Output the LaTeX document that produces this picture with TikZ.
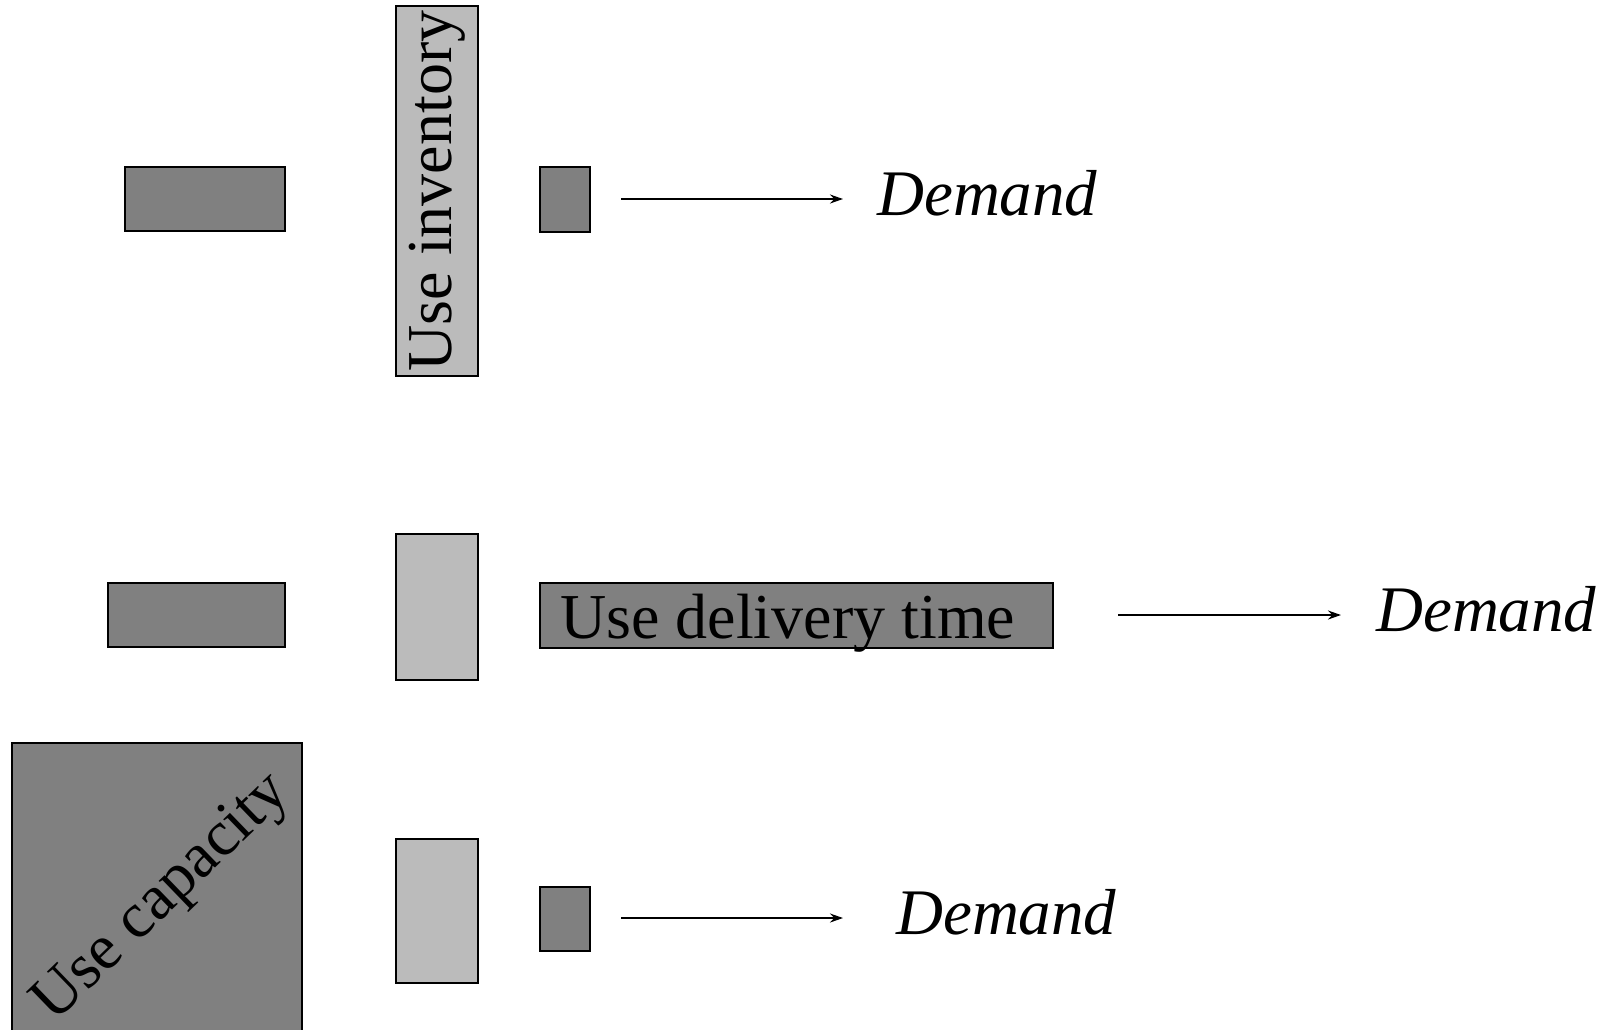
\documentclass[tikz,border=0pt]{standalone}
\usepackage{fontspec}
\setmainfont{Liberation Serif}
\usetikzlibrary{arrows.meta}
\definecolor{dk}{HTML}{808080}
\definecolor{lt}{HTML}{BBBBBB}
\begin{document}
\begin{tikzpicture}[x=1pt,y=-1pt,
  darkbox/.style={draw=black, fill=dk, line width=2.2pt, inner sep=0pt},
  lightbox/.style={draw=black, fill=lt, line width=2.2pt, inner sep=0pt},
  bigtext/.style={font=\fontsize{64}{70}\selectfont, inner sep=0pt},
  demtext/.style={font=\fontsize{65}{72}\selectfont\itshape, inner sep=0pt, anchor=base west},
  arr/.style={line width=1.8pt, -{Stealth[length=13pt,width=9pt]}}]
\clip (0,0) rectangle (1602,1029);
\useasboundingbox (0,0) rectangle (1602,1029);
\fill[white] (0,0) rectangle (1602,1029);
% top row
\node[darkbox, minimum width=160pt, minimum height=64pt] (l1) at (205,199) {};
\node[lightbox, bigtext, rotate=90, minimum width=370pt, minimum height=82pt] (inv) at (437,191) {Use inventory};
\node[darkbox, minimum width=50pt, minimum height=65pt] (s1) at (565,199.5) {};
\coordinate (a1s) at (621,199);
\node[demtext] (d1) at (877,215) {Demand};
\draw[arr] (a1s) -- ([xshift=-34pt]d1.west |- a1s);
% middle row
\node[darkbox, minimum width=177pt, minimum height=64pt] (l2) at (196.5,615) {};
\node[lightbox, minimum width=82pt, minimum height=146pt] (m2) at (437,607) {};
\node[darkbox, minimum width=513pt, minimum height=65pt] (del) at (796.5,615.5) {};
\node[bigtext, anchor=base west] (delt) at (560,638) {Use delivery time};
\coordinate (a2s) at (1118,615);
\node[demtext] (d2) at (1376,631) {Demand};
\draw[arr] (a2s) -- ([xshift=-35pt]d2.west |- a2s);
% bottom row
\node[darkbox, minimum width=290pt, minimum height=290pt] (cap) at (157,888) {};
\node[bigtext, rotate=44] (capt) at (163,899) {Use capacity};
\node[lightbox, minimum width=82pt, minimum height=144pt] (m3) at (437,911) {};
\node[darkbox, minimum width=50pt, minimum height=64pt] (s3) at (565,919) {};
\coordinate (a3s) at (621,918);
\node[demtext] (d3) at (896,934) {Demand};
\draw[arr] (a3s) -- ([xshift=-53pt]d3.west |- a3s);
\end{tikzpicture}
\end{document}
